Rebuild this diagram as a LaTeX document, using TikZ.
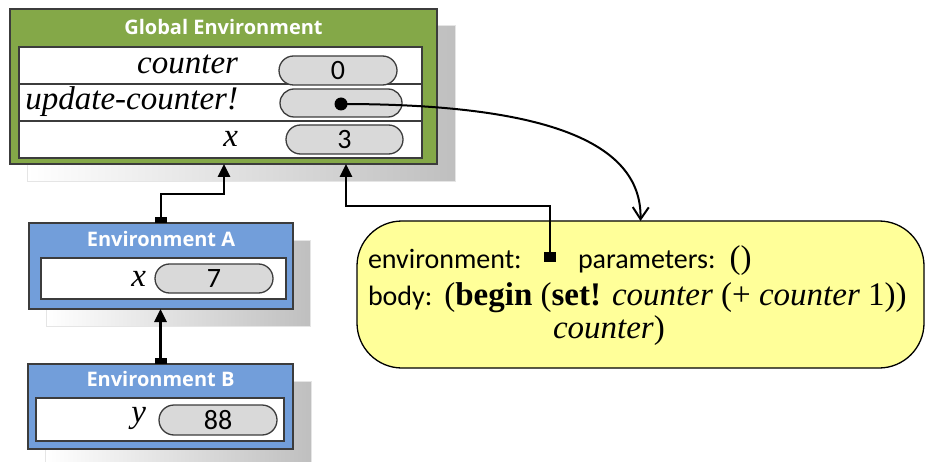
\documentclass[tikz,border=0pt]{standalone}
\usepackage{fontspec}
\setmainfont{Liberation Serif}
\newfontfamily\calibri{Carlito}
\newfontfamily\opensans{Open Sans}
\usepackage{xcolor}
\definecolor{colorGlobal}{RGB}{132,168,72}
\definecolor{colorEnv}{RGB}{114,158,218}
\definecolor{colorProc}{RGB}{255,255,153}
\definecolor{colorPill}{RGB}{217,217,217}
\definecolor{colorFrame}{RGB}{60,60,60}
\usepackage{tikz}
\usetikzlibrary{arrows.meta, shapes.misc, positioning}
\tikzset{
  frame/.style={draw=colorFrame, line width=1.5pt},
  shadowbox/.style={left color=white, right color=black!25, draw=black!10, line width=1pt},
  envbox/.style={frame, fill=#1},
  title/.style={text=white, font=\opensans\bfseries\fontsize{20}{24}\selectfont},
  row/.style={frame, fill=white, line width=1.3pt},
  varname/.style={anchor=base east, font=\fontsize{33}{39}\selectfont\itshape},
  pill/.style={rounded rectangle, draw=colorFrame, fill=colorPill, line width=1.3pt, font=\calibri\fontsize{28}{34}\selectfont},
  ptr/.style={line width=2.6pt, -{Triangle[width=12pt,length=13pt]}},
  sqtail/.style={ptr, {Square[width=12pt,length=6pt]}-{Triangle[width=12pt,length=13pt]}},
  proc/.style={draw=black, fill=colorProc, rounded corners=45pt, line width=1.3pt},
  proctext/.style={anchor=base west, font=\calibri\fontsize{28}{34}\selectfont},
}

\begin{document}
\begin{tikzpicture}[x=1pt, y=-1pt, every node/.append style={inner sep=0pt, outer sep=0pt}]
\useasboundingbox (0,0) rectangle (925,462);
\node[shadowbox, minimum width=428, minimum height=156] (gshadow) at (241,104) {};
\node[shadowbox, minimum width=264, minimum height=86] (ashadow) at (178,283) {};
\node[shadowbox, minimum width=266, minimum height=85] (bshadow) at (178,423.5) {};

\node[envbox=colorGlobal, minimum width=427, minimum height=155] (genv) at (223.5,86.5) {};
\node[title] (gtitle) at (223.5,27) {Global Environment};
\node[row, minimum width=403, minimum height=37] (grow1) at (220.5,65.5) {};
\node[row, minimum width=403, minimum height=37, below=0pt of grow1] (grow2) {};
\node[row, minimum width=403, minimum height=37, below=0pt of grow2] (grow3) {};
\node[varname] (gcounter) at (238,74) {counter};
\node[varname] (gupdate) at (238,110) {update-counter!};
\node[varname] (gx) at (238,147) {x};
\node[pill, minimum width=118, minimum height=29] (vcounter) at (338,70.5) {0};
\node[pill, minimum width=122, minimum height=28] (vupdate) at (341,103) {};
\node[pill, minimum width=117, minimum height=29] (vx) at (344.5,139.5) {3};
\node[circle, fill=black, minimum size=13] (dot) at (341,104) {};

\node[envbox=colorEnv, minimum width=264, minimum height=86] (aenv) at (161,266) {};
\node[title] (atitle) at (161,239) {Environment A};
\node[row, minimum width=245, minimum height=41] (arow) at (163.5,278.5) {};
\node[varname] (ax) at (146,286) {x};
\node[pill, minimum width=118, minimum height=29] (av) at (214,278.5) {7};

\node[envbox=colorEnv, minimum width=265, minimum height=85] (benv) at (160.5,406.5) {};
\node[title] (btitle) at (160.5,379) {Environment B};
\node[row, minimum width=248, minimum height=43] (brow) at (160,419.5) {};
\node[varname] (by) at (146,422) {y};
\node[pill, minimum width=118, minimum height=30] (bv) at (218,420) {88};

\node[proc, minimum width=567, minimum height=147] (proc) at (640.5,294.5) {};
\node[proctext] (penv) at (368,268) {environment:};
\node[fill=black, minimum width=12, minimum height=10] (penvptr) at (550,257) {};
\node[proctext] (pparams) at (578,268) {parameters:\hspace{14pt}{\rmfamily\fontsize{33}{39}\selectfont()}};
\node[proctext] (pbody) at (368,305) {body:\hspace{12pt}{\rmfamily\fontsize{33}{39}\selectfont(\textbf{begin} (\textbf{set!} \textit{counter} (+ \textit{counter} 1))}};
\node[anchor=base west, font=\fontsize{33}{39}\selectfont] (pbody2) at (553,338) {\textit{counter})};

\coordinate (abend) at (224,194);
\coordinate (pbend) at (346,206);
\draw[sqtail] (aenv.north) |- (abend) -- (abend |- genv.south);
\draw[sqtail] (benv.north) -- (benv.north |- aenv.south);
\draw[ptr] (penvptr.north) |- (pbend) -- (pbend |- genv.south);
\draw[line width=2pt, -{Straight Barb[width=16pt,length=12pt]}] (dot.center) .. controls (540,104) and (642,140) .. (proc.north);
\end{tikzpicture}
\end{document}
